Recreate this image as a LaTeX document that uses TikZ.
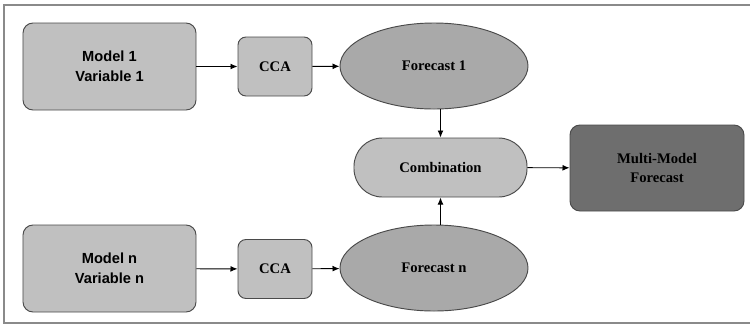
\documentclass[tikz,border=0pt]{standalone}
\usepackage{fontspec}
\setmainfont{Liberation Serif}
\newfontfamily\arialfont{Liberation Sans}
\usetikzlibrary{arrows.meta,shapes.geometric}
\definecolor{boxgray}{HTML}{C0C0C0}
\definecolor{ellgray}{HTML}{A9A9A9}
\definecolor{darkgray}{HTML}{6E6E6E}
\definecolor{edgegray}{HTML}{4A4A4A}
\definecolor{framegray}{HTML}{8A8A8A}
\begin{document}
\begin{tikzpicture}[x=0.03cm,y=-0.03cm,>={Latex[length=6pt,width=5pt]},line width=0.8pt,
    model/.style={draw=edgegray,fill=boxgray,rounded corners=0.3cm,
      minimum width=5.19cm,minimum height=2.61cm,align=center,
      font=\arialfont\bfseries\fontsize{12.5}{17}\selectfont},
    cca/.style={draw=edgegray,fill=boxgray,rounded corners=0.24cm,
      minimum width=2.22cm,minimum height=1.77cm,
      font=\bfseries\fontsize{12.5}{14}\selectfont},
    fcst/.style={ellipse,draw=edgegray,fill=ellgray,inner sep=0pt,
      minimum width=5.64cm,minimum height=2.58cm,
      font=\bfseries\fontsize{12.5}{14}\selectfont},
    comb/.style={draw=edgegray,fill=boxgray,rounded corners=0.85cm,
      minimum width=5.19cm,minimum height=1.77cm,
      font=\bfseries\fontsize{12.5}{14}\selectfont},
    multi/.style={draw=edgegray,fill=darkgray,rounded corners=0.3cm,
      minimum width=5.22cm,minimum height=2.58cm,align=center,
      font=\bfseries\fontsize{12.5}{17}\selectfont}]
    \useasboundingbox (0,0) rectangle (750,325);
    \draw[framegray,line width=1.6pt] (760,5) -- (4,5) -- (4,323) -- (760,323);
    % top row
    \node[model](M1) at (109.5,66.5) {Model 1\\Variable 1};
    \node[cca](C1) at (275,66.5) {CCA};
    \node[fcst](F1) at (434,66) {Forecast 1};
    % bottom row
    \node[model](Mn) at (109.5,268.5) {Model n\\Variable n};
    \node[cca](Cn) at (275,269) {CCA};
    \node[fcst](Fn) at (434,268) {Forecast n};
    % combination
    \node[comb](C) at (440.5,167.5) {Combination};
    \node[multi](MM) at (657,168) {Multi-Model\\Forecast};
    \path[->] (M1) edge (C1);
    \path[->] (C1) edge (F1);
    \path[->] (Mn) edge (Cn);
    \path[->] (Cn) edge (Fn);
    \path[->] (F1.south -| C.north) edge (C.north);
    \path[->] (Fn.north -| C.south) edge (C.south);
    \path[->] (C) edge (MM);
  \end{tikzpicture}
\end{document}
